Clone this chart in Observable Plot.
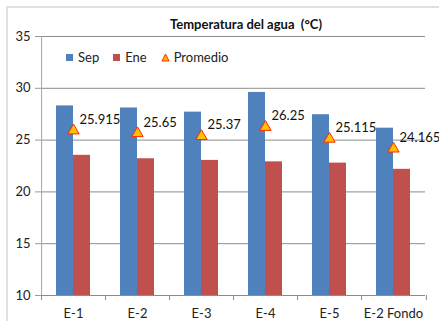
<!DOCTYPE html>
<html><head><meta charset="utf-8">
<script src="https://cdn.jsdelivr.net/npm/d3@7"></script>
<script src="https://cdn.jsdelivr.net/npm/@observablehq/plot@0.6"></script>
<style>
body{margin:0;background:#fff;font-family:Lato,sans-serif}
#wrap{position:relative;width:439px;height:321px;overflow:hidden;background:#fff}
#border{position:absolute;left:6px;top:6px;width:460px;height:340px;border:2px solid #e0e0e0;box-sizing:border-box}
#chart{position:absolute;left:0;top:0}
#title{position:absolute;top:16px;left:146px;width:200px;text-align:center;font-weight:bold;font-size:13px;color:#111;white-space:nowrap}
#legend{position:absolute;top:49px;left:66px;font-size:13px;color:#222;display:flex;align-items:center;white-space:nowrap}
#legend span.sw{display:inline-block;width:7px;height:7px;margin-right:5px}
#legend .item{display:flex;align-items:center;margin-right:14px}
svg g[aria-label="y-axis tick"] path{stroke:#999}
</style></head>
<body>
<div id="wrap">
  <div id="border"></div>
  <div id="chart"></div>
  <div id="title">Temperatura del agua&nbsp; (°C)</div>
  <div id="legend"></div>
</div>
<script>
const categories = ["E-1", "E-2", "E-3", "E-4", "E-5", "E-2 Fondo"];
const series = ["Sep", "Ene"];
const sep = [28.3, 28.1, 27.7, 29.6, 27.45, 26.15];
const ene = [23.53, 23.2, 23.04, 22.9, 22.78, 22.18];
const promedio = [25.915, 25.65, 25.37, 26.25, 25.115, 24.165];
const promedioLabels = ["25.915", "25.65", "25.37", "26.25", "25.115", "24.165"];
const yTicks = [10, 15, 20, 25, 30, 35];
const colors = {Sep: "#4F81BD", Ene: "#C0504D"};
const triFill = "#FFC000", triStroke = "#FF2A00";

const W = 439, H = 321, mL = 38, mR = 12, mT = 36, mB = 26;
const facetW = (W - mL - mR) / categories.length;
const padOuter = 0.8;
const step = facetW / (series.length + 2 * padOuter);
const sepCenter = step * (padOuter + 0.5);
const plotH = H - mT - mB;

const bars = categories.flatMap((c, i) => [
  {cat: c, serie: "Sep", value: sep[i]},
  {cat: c, serie: "Ene", value: ene[i]}
]);
const prom = categories.map((c, i) => ({cat: c, value: promedio[i], label: promedioLabels[i]}));

const chart = Plot.plot({
  width: W, height: H,
  marginLeft: mL, marginRight: mR, marginTop: mT, marginBottom: mB,
  style: {fontFamily: "Lato, sans-serif", fontSize: "13px", color: "#222", background: "transparent"},
  fx: {domain: categories, padding: 0, label: null, axis: "bottom", tickSize: 0, tickPadding: 13},
  x: {domain: series, paddingInner: 0, paddingOuter: padOuter, axis: null},
  y: {domain: [yTicks[0], yTicks[yTicks.length - 1]], ticks: yTicks, tickSize: 6, tickPadding: 5, label: null, line: false},
  color: {domain: series, range: series.map(s => colors[s])},
  marks: [
    Plot.ruleY(yTicks.slice(1), {stroke: "#8c8c8c"}),
    Plot.barY(bars, {fx: "cat", x: "serie", y1: yTicks[0], y2: "value", fill: "serie"}),
    Plot.ruleY([yTicks[0]], {stroke: "#8c8c8c"}),
    Plot.ruleX([{cat: categories[0]}], {fx: "cat", x: () => "Sep", dx: -sepCenter, stroke: "#a6a6a6"}),
    Plot.ruleX(["Sep"], {x: d => d, dx: -sepCenter, insetTop: plotH, insetBottom: -5, stroke: "#8c8c8c"}),
    Plot.ruleX([{cat: categories[categories.length - 1]}], {fx: "cat", x: () => "Sep", dx: facetW - sepCenter, insetTop: plotH, insetBottom: -5, stroke: "#8c8c8c"}),
    Plot.dot(prom, {fx: "cat", y: "value", symbol: "triangle", r: 4.2, fill: triFill, stroke: triStroke, strokeWidth: 1}),
    Plot.text(prom, {fx: "cat", y: "value", text: "label", textAnchor: "start", dx: 6, dy: -11, fontSize: 13, fill: "#111"})
  ]
});
document.getElementById("chart").appendChild(chart);

// Legend
const legend = document.getElementById("legend");
series.forEach(s => {
  const it = document.createElement("div");
  it.className = "item";
  it.innerHTML = `<span class="sw" style="background:${colors[s]}"></span>${s}`;
  legend.appendChild(it);
});
const pit = document.createElement("div");
pit.className = "item";
pit.innerHTML = `<svg width="9" height="9" style="margin-right:4px"><path d="M4.5,1 L8,8 L1,8 Z" fill="${triFill}" stroke="${triStroke}" stroke-width="1"/></svg>Promedio`;
legend.appendChild(pit);
</script>
</body></html>
